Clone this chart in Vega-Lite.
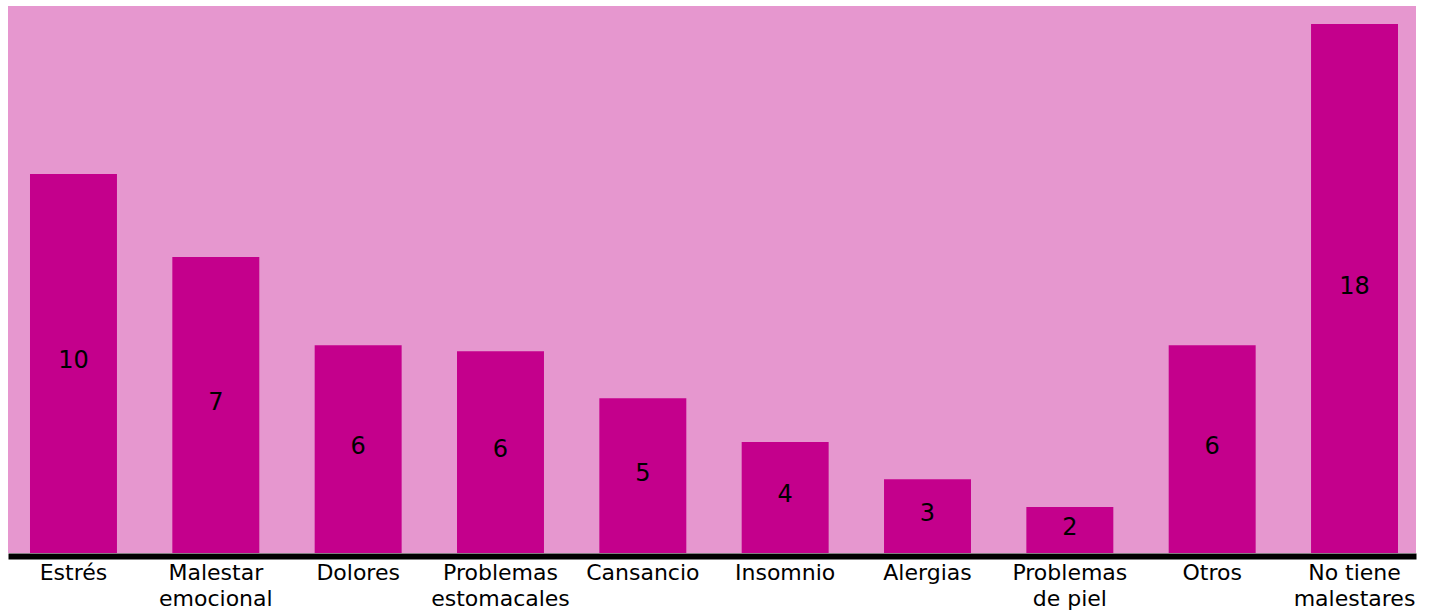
{
  "$schema": "https://vega.github.io/schema/vega-lite/v6.json",
  "width": 1408,
  "height": 547,
  "autosize": {"type": "none"},
  "padding": {"left": 8, "top": 6, "right": 18, "bottom": 63},
  "background": "white",
  "config": {"view": {"fill": "#E697CF", "stroke": null}},
  "data": {
    "values": [
      {"categoria": "Estrés", "valor": 69.3, "etiqueta": "10"},
      {"categoria": "Malestar\nemocional", "valor": 54.1, "etiqueta": "7"},
      {"categoria": "Dolores", "valor": 38.0, "etiqueta": "6"},
      {"categoria": "Problemas\nestomacales", "valor": 36.9, "etiqueta": "6"},
      {"categoria": "Cansancio", "valor": 28.3, "etiqueta": "5"},
      {"categoria": "Insomnio", "valor": 20.3, "etiqueta": "4"},
      {"categoria": "Alergias", "valor": 13.5, "etiqueta": "3"},
      {"categoria": "Problemas\nde piel", "valor": 8.4, "etiqueta": "2"},
      {"categoria": "Otros", "valor": 38.0, "etiqueta": "6"},
      {"categoria": "No tiene\nmalestares", "valor": 96.7, "etiqueta": "18"}
    ]
  },
  "encoding": {
    "x": {
      "field": "categoria",
      "type": "nominal",
      "sort": null,
      "scale": {"paddingInner": 0.389, "paddingOuter": 0.1405, "align": 0.55},
      "axis": {
        "title": null,
        "labelAngle": 0,
        "labelExpr": "split(datum.value, '\\n')",
        "labelFont": "DejaVu Sans",
        "labelFontSize": 22,
        "labelColor": "black",
        "labelLineHeight": 26,
        "domainColor": "black",
        "domainWidth": 6,
        "offset": 3,
        "ticks": false,
        "labelPadding": 6
      }
    }
  },
  "layer": [
    {
      "mark": {"type": "bar", "color": "#C4008C"},
      "encoding": {
        "y": {"field": "valor", "type": "quantitative", "scale": {"domain": [0, 100]}, "axis": null}
      }
    },
    {
      "mark": {"type": "text", "fontSize": 24, "font": "DejaVu Sans", "color": "black", "baseline": "middle", "dy": -2},
      "encoding": {
        "y": {"field": "valor", "type": "quantitative", "scale": {"domain": [0, 200]}, "axis": null},
        "text": {"field": "etiqueta"}
      }
    }
  ],
  "resolve": {"scale": {"y": "independent"}}
}
